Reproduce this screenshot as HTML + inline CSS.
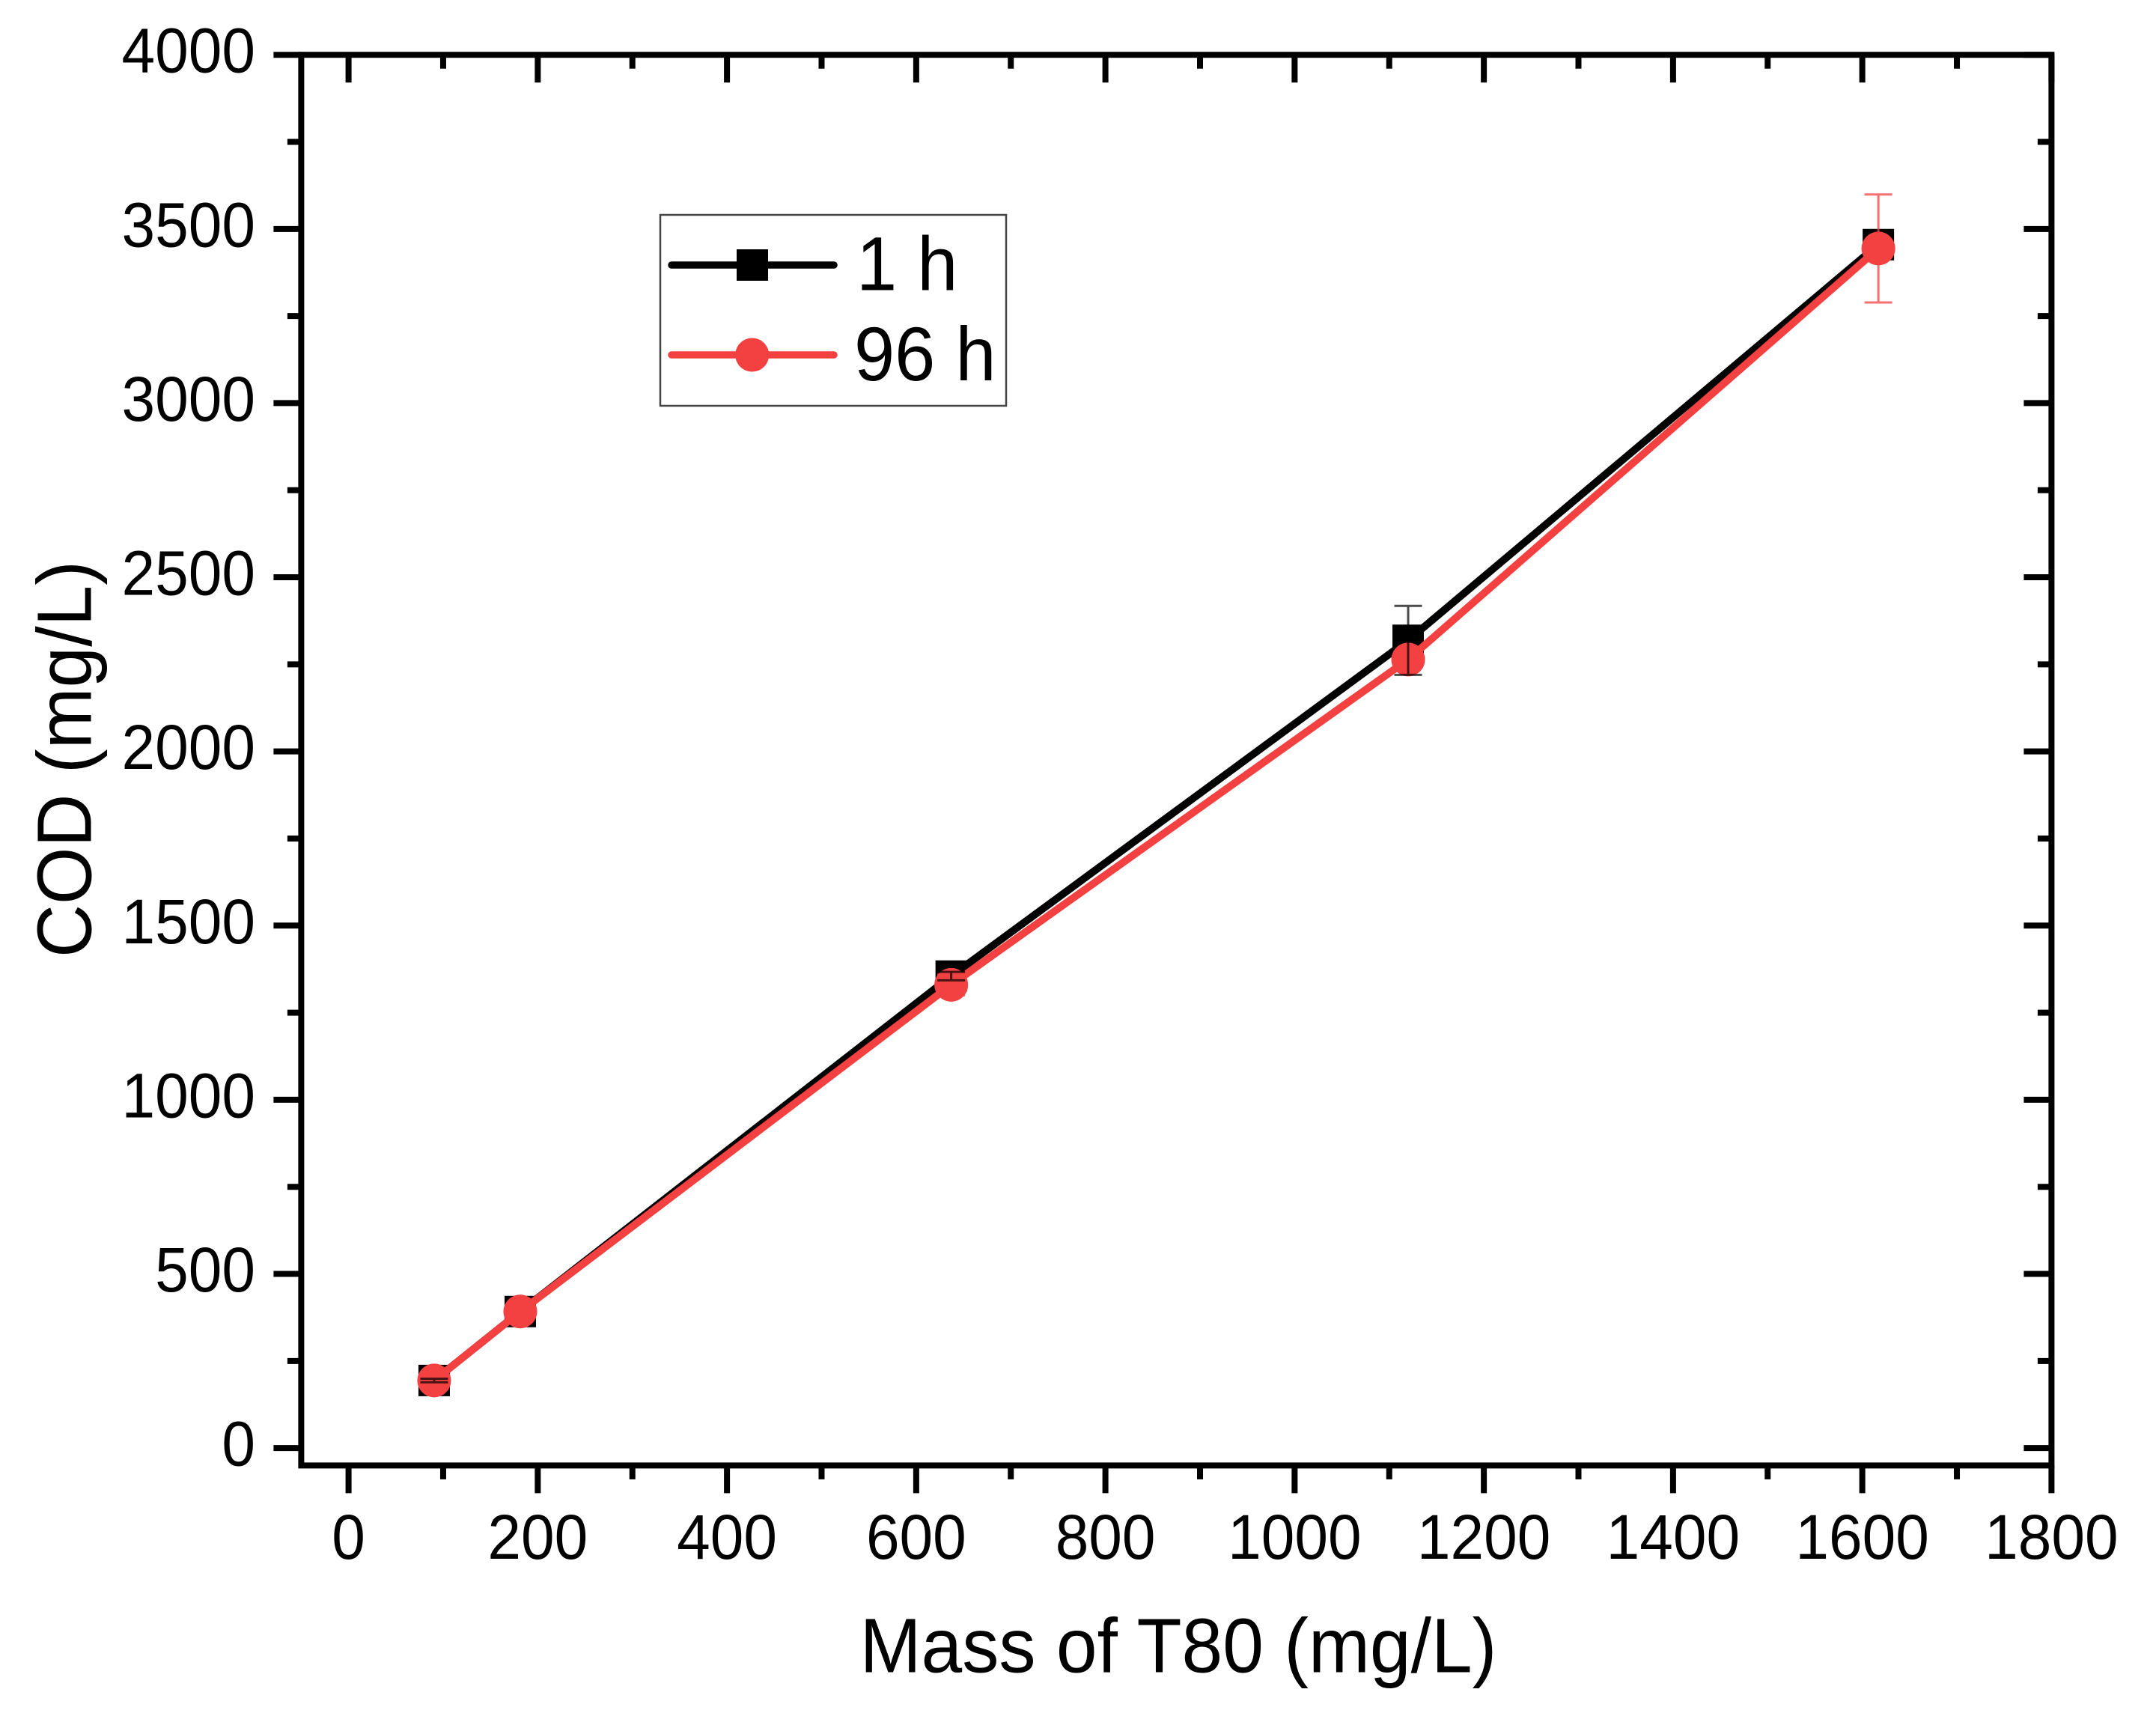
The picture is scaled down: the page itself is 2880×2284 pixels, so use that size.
<!DOCTYPE html>
<html>
<head>
<meta charset="utf-8">
<title>COD vs Mass of T80</title>
<style>
  html, body { margin: 0; padding: 0; background: #fff; }
  svg { display: block; }
  text { font-family: "Liberation Sans", Arial, sans-serif; fill: #000; }
</style>
</head>
<body>
<svg id="chart" xmlns="http://www.w3.org/2000/svg" width="2880" height="2284" viewBox="0 0 2880 2284">
  <rect x="0" y="0" width="2880" height="2284" fill="#fff"/>
  <g id="series-layer"></g>
  <g id="axes-layer"></g>
  <text transform="translate(1574 2233.5) scale(0.955 1)" font-size="103" text-anchor="middle">Mass of T80 (mg/L)</text>
  <text transform="translate(121.5 1014) rotate(-90) scale(0.955 1)" font-size="103" text-anchor="middle">COD (mg/L)</text>
  <g>
    <rect x="882" y="287" width="462" height="255" fill="#fff" stroke="#444" stroke-width="2.5"/>
    <g>
      <line x1="897" y1="354" x2="1114" y2="354" stroke="#000" stroke-width="9.5" stroke-linecap="round"/>
      <rect x="984" y="333" width="42" height="42" fill="#000"/>
      <text transform="translate(1144 387.5) scale(0.955 1)" font-size="102">1 h</text>
    </g>
    <g>
      <line x1="897" y1="474" x2="1114" y2="474" stroke="#f34040" stroke-width="9.5" stroke-linecap="round"/>
      <circle cx="1004.7" cy="474" r="22.5" fill="#f34040"/>
      <text transform="translate(1141 508) scale(0.955 1)" font-size="102">96 h</text>
    </g>
  </g>
</svg>
<script>
// Chart data
const xValues = [90.5, 181.5, 637, 1120, 1617];
const oneHourCod = [194, 392, 1355, 2319, 3455];
const oneHourErr = [5, 0, 12, 99, 0];
const ninetySixHourCod = [194, 392, 1330, 2264, 3444];
const ninetySixHourErr = [0, 0, 30, 20, 155];
const xTickLabels = [0, 200, 400, 600, 800, 1000, 1200, 1400, 1600, 1800];
const yTickLabels = [0, 500, 1000, 1500, 2000, 2500, 3000, 3500, 4000];
const xDomain = [-50, 1800];
const yDomain = [-50, 4000];

// Axis functions
const plotLeft = 402.4, plotRight = 2740.4, plotTop = 73.2, plotBottom = 1957.4;
function xScale(v) { return plotLeft + (v - xDomain[0]) / (xDomain[1] - xDomain[0]) * (plotRight - plotLeft); }
function yScale(v) { return plotBottom - (v - yDomain[0]) / (yDomain[1] - yDomain[0]) * (plotBottom - plotTop); }

const NS = 'http://www.w3.org/2000/svg';
const axes = document.getElementById('axes-layer');
const seriesLayer = document.getElementById('series-layer');

function make(parent, tag, props) {
  const el = document.createElementNS(NS, tag);
  for (const k in props) el.setAttribute(k, props[k]);
  parent.appendChild(el);
  return el;
}

// Frame
const frame = make(axes, 'rect', { x: plotLeft, y: plotTop, width: plotRight - plotLeft, height: plotBottom - plotTop, fill: 'none', stroke: '#000', 'stroke-width': 8 });



const TICK_W = 8, MAJOR = 37, MINOR = 18.5;

function xTickMark(v, len, kind) {
  const px = xScale(v);
  const b = make(axes, 'line', { x1: px, x2: px, y1: plotBottom, y2: plotBottom + len, stroke: '#000', 'stroke-width': TICK_W });
  
  
  const t = make(axes, 'line', { x1: px, x2: px, y1: plotTop, y2: plotTop + len, stroke: '#000', 'stroke-width': TICK_W });
  
  
}
function yTickMark(v, len, kind) {
  const py = yScale(v);
  const l = make(axes, 'line', { x1: plotLeft - len, x2: plotLeft, y1: py, y2: py, stroke: '#000', 'stroke-width': TICK_W });
  
  
  const r = make(axes, 'line', { x1: plotRight - len, x2: plotRight, y1: py, y2: py, stroke: '#000', 'stroke-width': TICK_W });
  
  
}

xTickLabels.forEach(function (v, i) {
  xTickMark(v, MAJOR, 'major');
  if (i < xTickLabels.length - 1) xTickMark((v + xTickLabels[i + 1]) / 2, MINOR, 'minor');
  const lab = make(axes, 'text', { transform: 'translate(' + xScale(v) + ' 2082) scale(0.955 1)', 'font-size': 84, 'text-anchor': 'middle' });
  
  
  lab.textContent = String(v);
});

yTickLabels.forEach(function (v, i) {
  yTickMark(v, MAJOR, 'major');
  if (i < yTickLabels.length - 1) yTickMark((v + yTickLabels[i + 1]) / 2, MINOR, 'minor');
  const lab = make(axes, 'text', { transform: 'translate(341 ' + (yScale(v) + 23.5) + ') scale(0.955 1)', 'font-size': 84, 'text-anchor': 'end' });
  
  
  lab.textContent = String(v);
});

function linePath(values) {
  return values.map(function (v, i) {
    return (i ? 'L' : 'M') + xScale(xValues[i]).toFixed(2) + ' ' + yScale(v).toFixed(2);
  }).join(' ');
}

function drawErrors(values, errs, color, opacity, name) {
  values.forEach(function (v, i) {
    if (!errs[i]) return;
    const px = xScale(xValues[i]);
    const top = yScale(v + errs[i]), bottom = yScale(v - errs[i]);
    const g = make(seriesLayer, 'g', { stroke: color, 'stroke-width': 3, 'stroke-opacity': opacity, fill: 'none' });
    
    
    make(g, 'path', { d: 'M' + px + ' ' + top + ' L' + px + ' ' + bottom +
      ' M' + (px - 18.5) + ' ' + top + ' H' + (px + 18.5) +
      ' M' + (px - 18.5) + ' ' + bottom + ' H' + (px + 18.5) });
  });
}

// 1 h series
const lineOne = make(seriesLayer, 'path', { d: linePath(oneHourCod), fill: 'none', stroke: '#000', 'stroke-width': 10, 'stroke-linejoin': 'round' });


oneHourCod.forEach(function (v, i) {
  const m = make(seriesLayer, 'rect', { x: xScale(xValues[i]) - 21, y: yScale(v) - 21, width: 42, height: 42, fill: '#000' });
  
  
});

// 96 h error bars sit behind the markers
drawErrors(ninetySixHourCod, ninetySixHourErr, '#f34040', 0.75, 'series-96h-error-bar');

// 96 h series
const lineNinetySix = make(seriesLayer, 'path', { d: linePath(ninetySixHourCod), fill: 'none', stroke: '#f34040', 'stroke-width': 10, 'stroke-linejoin': 'round' });


ninetySixHourCod.forEach(function (v, i) {
  const m = make(seriesLayer, 'circle', { cx: xScale(xValues[i]), cy: yScale(v), r: 22.5, fill: '#f34040' });
  
  
});

// 1 h error bars appear on top of the markers
drawErrors(oneHourCod, oneHourErr, '#000', 0.7, 'series-1h-error-bar');
</script>
</body>
</html>
